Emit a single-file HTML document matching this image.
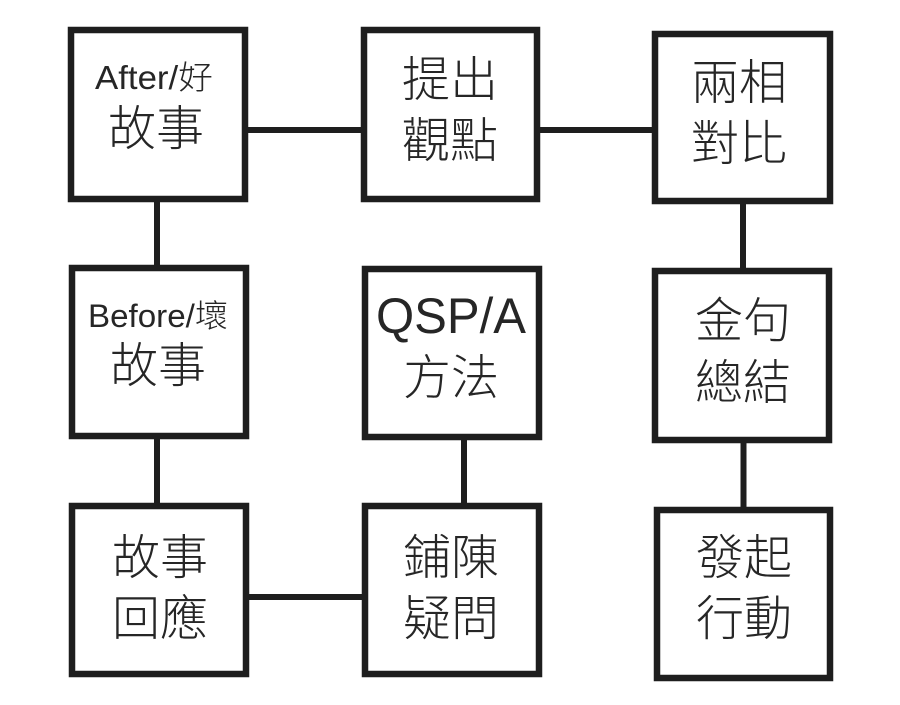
<!DOCTYPE html>
<html>
<head>
<meta charset="utf-8">
<style>
  html, body { margin: 0; padding: 0; background: #ffffff; }
  body { width: 900px; height: 705px; overflow: hidden; }
  svg { display: block; }
  .cjk { font-family: "Liberation Sans", "Noto Sans CJK TC", "Noto Sans CJK SC", sans-serif; fill: #262626; font-weight: 300; }
</style>
</head>
<body>
<svg width="900" height="705" viewBox="0 0 900 705" xmlns="http://www.w3.org/2000/svg">
  <rect x="0" y="0" width="900" height="705" fill="#ffffff"/>
  <g stroke="#1e1e1e" stroke-width="6" fill="none">
    <!-- connectors -->
    <line x1="247" y1="130" x2="362" y2="130"/>
    <line x1="539" y1="130" x2="653" y2="130"/>
    <line x1="157" y1="201" x2="157" y2="266"/>
    <line x1="157" y1="438" x2="157" y2="504"/>
    <line x1="464" y1="439" x2="464" y2="504"/>
    <line x1="248" y1="597" x2="363" y2="597"/>
    <line x1="743" y1="203" x2="743" y2="269"/>
    <line x1="743.5" y1="442" x2="743.5" y2="508"/>
  </g>
  <g stroke="#1e1e1e" stroke-width="6.5" fill="#ffffff">
    <!-- boxes (stroke-centered) -->
    <rect x="71" y="30" width="174" height="169"/>
    <rect x="364" y="30" width="173" height="169"/>
    <rect x="655" y="34" width="175" height="167"/>
    <rect x="72" y="268" width="174" height="168"/>
    <rect x="365" y="269" width="174" height="168"/>
    <rect x="655" y="271" width="174" height="169"/>
    <rect x="72" y="506" width="174" height="168"/>
    <rect x="365" y="506" width="174" height="168"/>
    <rect x="657" y="510" width="173" height="168"/>
  </g>
  <g class="cjk" text-anchor="middle">
    <!-- box 1 -->
    <text x="154" y="89" font-size="33" textLength="118" lengthAdjust="spacingAndGlyphs">After/好</text>
    <text x="156" y="145" font-size="48">故事</text>
    <!-- box 2 -->
    <text x="450" y="96" font-size="48">提出</text>
    <text x="450" y="157" font-size="48">觀點</text>
    <!-- box 3 -->
    <text x="739" y="99" font-size="48">兩相</text>
    <text x="739" y="160" font-size="48">對比</text>
    <!-- Before -->
    <text x="158" y="327" font-size="32" textLength="140" lengthAdjust="spacingAndGlyphs">Before/壞</text>
    <text x="158" y="382" font-size="48">故事</text>
    <!-- QSP -->
    <text x="451" y="333" font-size="50" textLength="150" lengthAdjust="spacingAndGlyphs">QSP/A</text>
    <text x="451" y="394" font-size="48">方法</text>
    <!-- 金句 -->
    <text x="743" y="337" font-size="48">金句</text>
    <text x="743" y="399" font-size="48">總結</text>
    <!-- 故事回應 -->
    <text x="160" y="574" font-size="48">故事</text>
    <text x="160" y="635" font-size="48">回應</text>
    <!-- 鋪陳疑問 -->
    <text x="451" y="574" font-size="48">鋪陳</text>
    <text x="451" y="635" font-size="48">疑問</text>
    <!-- 發起行動 -->
    <text x="744" y="574" font-size="48">發起</text>
    <text x="744" y="635" font-size="48">行動</text>
  </g>
</svg>
</body>
</html>
